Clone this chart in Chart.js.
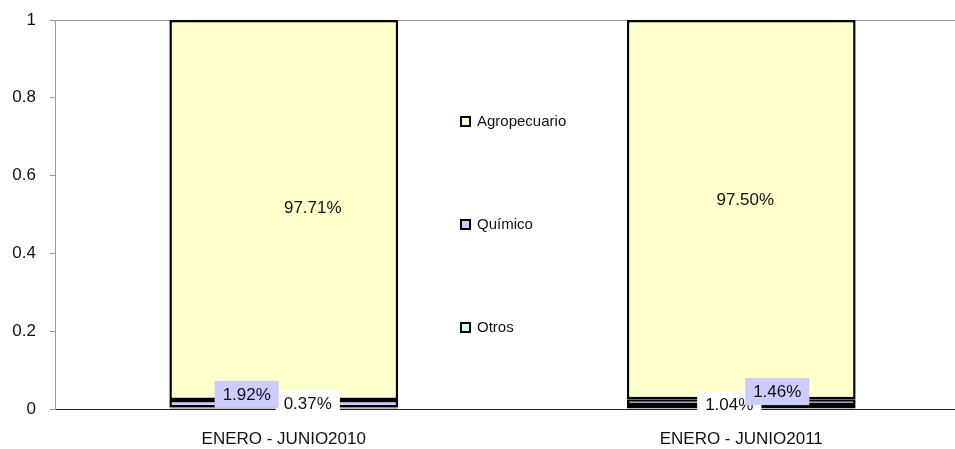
<!DOCTYPE html>
<html>
<head>
<meta charset="utf-8">
<script src="https://cdn.jsdelivr.net/npm/chart.js@4.4.0/dist/chart.umd.min.js"></script>
<style>
html, body { margin: 0; padding: 0; background: #fff; overflow: hidden; }
#wrap { width: 970px; height: 449px; }
</style>
</head>
<body>
<div id="wrap"><canvas id="shareChart"></canvas></div>
<script>
// data (shares of the total)
const categories = ['ENERO - JUNIO2010', 'ENERO - JUNIO2011'];
const otros = [0.0037, 0.0104];
const quimico = [0.0192, 0.0146];
const agropecuario = [0.9771, 0.9750];
const yTicks = [0, 0.2, 0.4, 0.6, 0.8, 1];

const FONT = '"Liberation Sans", Arial, sans-serif';

// where each value label sits relative to its segment centre, [dataset][bar]
const labelOffsets = [
    [[24, -5], [-12, -2]],   // Otros
    [[-37, -10], [36, -11]], // Químico
    [[29, -3], [4, -10]]     // Agropecuario
];
const labelBg = ['#ffffff', '#ccccff', null];

const valueLabels = {
    id: 'valueLabels',
    afterDatasetsDraw(chart) {
        const ctx = chart.ctx;
        ctx.save();
        ctx.font = '17px ' + FONT;
        ctx.textAlign = 'center';
        ctx.textBaseline = 'middle';
        chart.data.datasets.forEach(function(ds, i) {
            chart.getDatasetMeta(i).data.forEach(function(bar, j) {
                const txt = (ds.data[j] * 100).toFixed(2) + '%';
                const x = bar.x + labelOffsets[i][j][0];
                const y = (bar.y + bar.base) / 2 + labelOffsets[i][j][1];
                if (labelBg[i]) {
                    const w = ctx.measureText(txt).width + 16;
                    ctx.fillStyle = labelBg[i];
                    ctx.fillRect(x - w / 2, y - 13, w, 27);
                }
                ctx.fillStyle = '#111';
                ctx.fillText(txt, x, y + 1);
            });
        });
        ctx.restore();
    }
};

// legend in the gap between the bars, top item first
const sideLegend = {
    id: 'sideLegend',
    afterDraw(chart) {
        const ctx = chart.ctx;
        const rows = [121, 224, 327];
        const items = chart.data.datasets.slice().reverse();
        ctx.save();
        ctx.font = '15px ' + FONT;
        ctx.textBaseline = 'middle';
        items.forEach(function(ds, k) {
            const y = rows[k];
            ctx.fillStyle = ds.backgroundColor;
            ctx.fillRect(461, y - 4, 9, 9);
            ctx.strokeStyle = '#000';
            ctx.lineWidth = 2;
            ctx.strokeRect(461, y - 4, 9, 9);
            ctx.fillStyle = '#111';
            ctx.fillText(ds.label, 477, y + 1);
        });
        ctx.restore();
    }
};

new Chart(document.getElementById('shareChart'), {
    type: 'bar',
    data: {
        labels: categories,
        datasets: [
            { label: 'Otros', data: otros, backgroundColor: '#ccffff' },
            { label: 'Químico', data: quimico, backgroundColor: '#ccccff' },
            { label: 'Agropecuario', data: agropecuario, backgroundColor: '#ffffcc' }
        ]
    },
    options: {
        responsive: true,
        maintainAspectRatio: false,
        animation: false,
        layout: { padding: { top: 20, left: 0, right: 0, bottom: 0 } },
        datasets: {
            bar: {
                borderColor: '#000',
                borderWidth: 2.5,
                borderSkipped: false,
                categoryPercentage: 1,
                barPercentage: 0.5
            }
        },
        plugins: {
            legend: { display: false },
            tooltip: { enabled: false }
        },
        scales: {
            x: {
                stacked: true,
                afterFit(scale) { scale.height = 40; },
                grid: { display: false, drawTicks: false },
                border: { color: '#222', width: 1 },
                ticks: { color: '#111', font: { family: FONT, size: 17 }, padding: 20 }
            },
            y: {
                stacked: true,
                min: 0,
                max: 1,
                afterFit(scale) {
                    scale.width = 55;
                    scale.paddingTop = 0;
                    scale.paddingBottom = 0;
                },
                afterBuildTicks(scale) {
                    scale.ticks = yTicks.map(function(v) { return { value: v }; });
                },
                grid: {
                    color: function(c) { return c.tick && c.tick.value === 1 ? '#999' : 'rgba(0,0,0,0)'; },
                    tickColor: '#999',
                    tickLength: 5,
                    lineWidth: 1
                },
                border: { color: '#999', width: 1 },
                ticks: {
                    color: '#111',
                    font: { family: FONT, size: 17 },
                    padding: 14,
                    callback: function(v) { return String(v); }
                }
            }
        }
    },
    plugins: [valueLabels, sideLegend]
});
</script>
</body>
</html>
